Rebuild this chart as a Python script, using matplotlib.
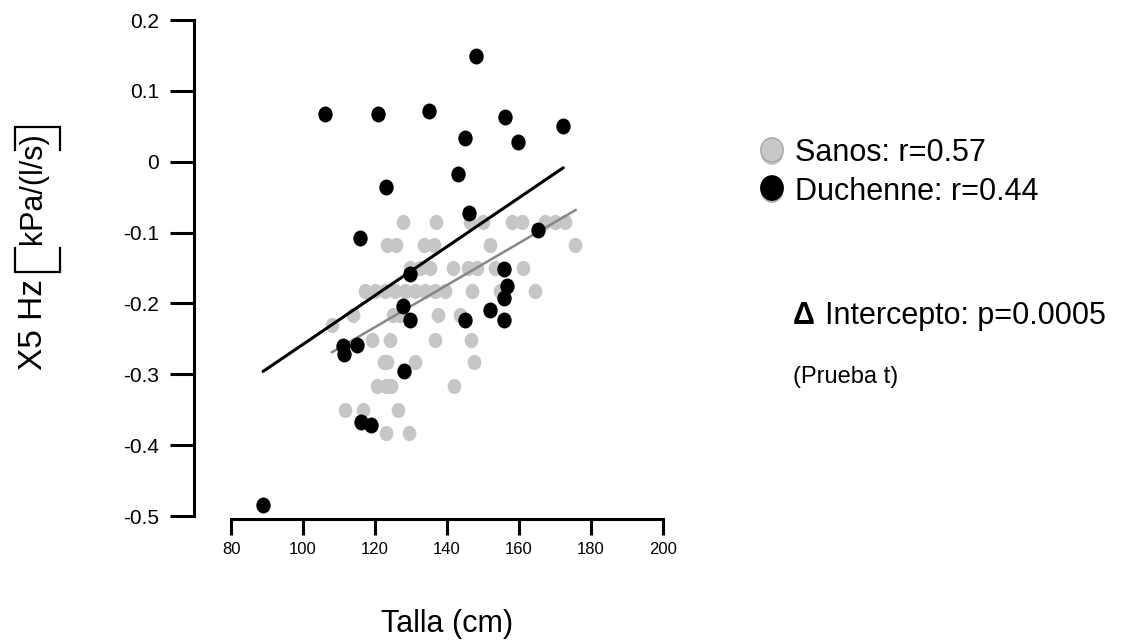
import matplotlib
matplotlib.use('Agg')
import matplotlib.pyplot as plt
from matplotlib.path import Path
from matplotlib.lines import Line2D
import matplotlib.patheffects as pe

plt.rcParams['font.family'] = ['Liberation Sans', 'DejaVu Sans']

# ---------------- data ----------------
sanos_x = [127.8, 136.9, 146.4, 150.0, 158.1, 160.8, 167.2, 170.0, 172.8,
           123.3, 125.8, 133.6, 136.4, 151.9, 175.6,
           129.7, 132.5, 135.3, 141.7, 145.8, 148.3, 153.3, 161.1,
           117.2, 120.0, 122.8, 125.6, 128.3, 131.1, 133.9, 136.7, 139.4, 146.9, 154.7, 164.4,
           113.9, 125.0, 126.9, 137.5, 143.6,
           108.1,
           119.2, 124.2, 136.7, 146.7,
           122.5, 123.3, 131.1, 147.5,
           120.6, 123.1, 124.4, 141.9,
           111.7, 116.7, 126.4,
           123.1, 129.4]
sanos_y = [-0.085] * 9 + [-0.118] * 6 + [-0.150] * 8 + [-0.183] * 12 + \
          [-0.217] * 5 + [-0.231] * 1 + [-0.251] * 4 + [-0.283] * 4 + \
          [-0.317] * 4 + [-0.350] * 3 + [-0.383] * 2

duch_x = [88.9, 106.1, 120.8, 135.0, 148.0, 156.1, 145.0, 159.7, 172.2, 143.0,
          123.0, 146.1, 115.8, 165.3, 129.7, 155.8, 156.7, 155.8, 127.8, 129.7,
          151.9, 145.0, 155.8, 111.1, 115.0, 111.4, 128.1, 116.1, 118.9]
duch_y = [-0.484, 0.068, 0.068, 0.071, 0.149, 0.063, 0.034, 0.028, 0.051, -0.018,
          -0.035, -0.073, -0.107, -0.097, -0.159, -0.152, -0.176, -0.193, -0.203, -0.223,
          -0.209, -0.224, -0.223, -0.260, -0.258, -0.272, -0.295, -0.367, -0.371]

# regression lines (end points)
sanos_fit_x = [108.0, 175.8]
sanos_fit_y = [-0.269, -0.068]
duch_fit_x = [88.9, 172.3]
duch_fit_y = [-0.296, -0.0085]

x_ticks = [80, 100, 120, 140, 160, 180, 200]
y_ticks = [-0.5, -0.4, -0.3, -0.2, -0.1, 0, 0.1, 0.2]
y_tick_labels = ['-0.5', '-0.4', '-0.3', '-0.2', '-0.1', '0', '0.1', '0.2']

sanos_r = 0.57
duch_r = 0.44
p_value = '0.0005'

# ---------------- figure ----------------
W, H = 1122, 640
fig = plt.figure(figsize=(W / 100, H / 100), dpi=100)
ax = fig.add_axes([231 / W, 1 - 516 / H, 432 / W, 496 / H])
ax.set_xlim(80, 200)
ax.set_ylim(-0.5, 0.2)

circ = Path.unit_circle()
ell = Path(circ.vertices * [0.9, 1.0], circ.codes)
ell_leg = Path(circ.vertices * [0.92, 1.0], circ.codes)

gray_pt = '#c6c6c6'
ax.scatter(sanos_x, sanos_y, s=120, marker=ell, color=gray_pt, linewidths=0, zorder=2)
ax.plot(sanos_fit_x, sanos_fit_y, color='#878787', lw=1.8, zorder=3, solid_capstyle='round')
ax.plot(duch_fit_x, duch_fit_y, color='black', lw=2.2, zorder=3, solid_capstyle='round')
ax.scatter(duch_x, duch_y, s=132, marker=ell, color='black', linewidths=0, zorder=4, clip_on=False)

for s in ['top', 'right']:
    ax.spines[s].set_visible(False)
ax.spines['left'].set_position(('outward', 26.6))
ax.spines['left'].set_bounds(-0.5, 0.2)
ax.spines['bottom'].set_position(('outward', 2.5))
ax.spines['bottom'].set_bounds(80, 200)
for s in ['left', 'bottom']:
    ax.spines[s].set_linewidth(2.2)

ax.set_xticks(x_ticks)
ax.set_xticklabels([str(v) for v in x_ticks])
ax.set_yticks(y_ticks)
ax.set_yticklabels(y_tick_labels)
ax.tick_params(axis='y', direction='out', length=17, width=2.2, pad=8, labelsize=15)
ax.tick_params(axis='x', direction='out', length=11.5, width=2.2, pad=5, labelsize=12)

# y axis label, composed of text and drawn brackets
fig.text(33 / W, 1 - 325 / H, 'X5 Hz', rotation=90, fontsize=24, ha='center', va='center')
fig.text(33 / W, 1 - 188 / H, 'kPa/(l/s)', rotation=90, fontsize=22, ha='center', va='center')
bx0, bx1 = 15, 60
for stroke_y, arm_y in [(272, 248), (127, 150)]:
    fig.add_artist(Line2D([bx0 / W, bx0 / W, bx1 / W, bx1 / W],
                          [1 - arm_y / H, 1 - stroke_y / H, 1 - stroke_y / H, 1 - arm_y / H],
                          color='black', lw=1.6, transform=fig.transFigure,
                          solid_joinstyle='miter'))

fig.text(447 / W, 1 - 632 / H, 'Talla (cm)', fontsize=22, ha='center', va='baseline')

# legend
shadow = [pe.SimplePatchShadow(offset=(0, -2), alpha=0.3), pe.Normal()]
fig.add_artist(Line2D([772 / W], [1 - 150 / H], marker=ell_leg, ms=17.5, color='#c8c8c8',
                      mec='#a4a4a4', mew=1, transform=fig.transFigure, path_effects=shadow))
fig.add_artist(Line2D([772 / W], [1 - 188 / H], marker=ell_leg, ms=17.5, color='black',
                      mec='black', mew=1, transform=fig.transFigure, path_effects=shadow))
fig.text(795 / W, 1 - 161 / H, f'Sanos: r={sanos_r:.2f}', fontsize=22, va='baseline')
fig.text(795 / W, 1 - 200 / H, f'Duchenne: r={duch_r:.2f}', fontsize=22, va='baseline')

fig.text(793 / W, 1 - 324 / H, '\u0394', fontsize=22, fontweight='bold', va='baseline')
fig.text(825 / W, 1 - 324 / H, f'Intercepto: p={p_value}', fontsize=22, va='baseline')
fig.text(793 / W, 1 - 383 / H, '(Prueba t)', fontsize=17, va='baseline')

fig.savefig('out.png', dpi=100)
